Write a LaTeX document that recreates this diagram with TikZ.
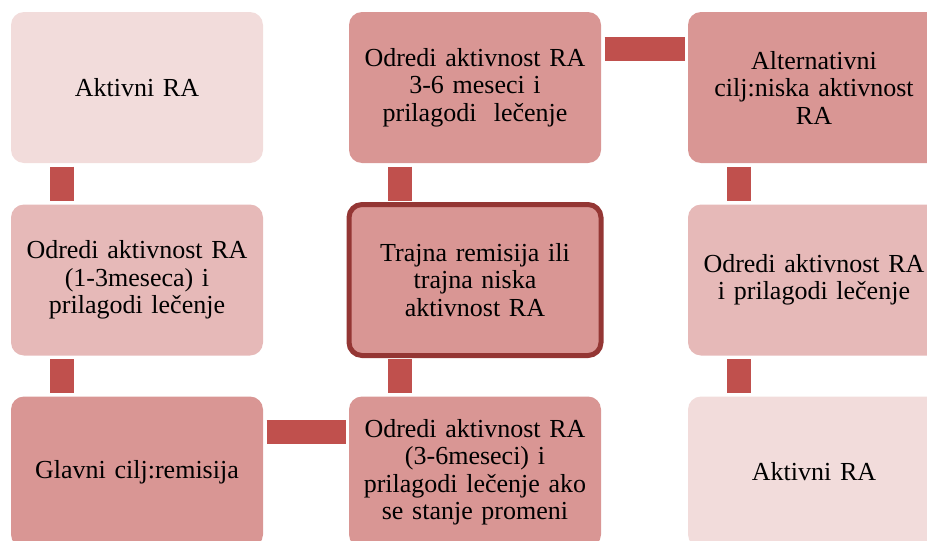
\documentclass[tikz,border=0pt]{standalone}
\usepackage{fontspec}
\setmainfont{Liberation Serif}
\definecolor{pale}{HTML}{F2DCDB}
\definecolor{soft}{HTML}{E6B9B8}
\definecolor{rose}{HTML}{D99694}
\definecolor{bar}{HTML}{C0504D}
\definecolor{frame}{HTML}{943634}
\tikzset{
  stage/.style={rounded corners=13pt, minimum width=252pt, minimum height=151pt,
    text width=246pt, align=center, inner sep=0pt, outer sep=0pt,
    font=\fontsize{26}{27.5}\selectfont},
  link/.style={draw=bar, line width=24pt, shorten <=3.5pt, shorten >=3.5pt}
}
\begin{document}
\begin{tikzpicture}[x=1pt,y=-1pt]
    \useasboundingbox (0,0) rectangle (927,541);
    % Treatment stages, three columns
    \node[stage, fill=pale] (a1) at (137,87.5) {Aktivni RA};
    \node[stage, fill=soft] (a2) at (137,280) {Odredi aktivnost RA\\(1-3meseca) i\\prilagodi lečenje};
    \node[stage, fill=rose] (a3) at (137,472) {Glavni cilj:remisija};
    \node[stage, fill=rose] (b1) at (475,87.5) {Odredi aktivnost RA\\3-6 meseci i\\prilagodi \ lečenje};
    \node[stage, fill=rose, draw=frame, line width=5pt] (b2) at (475,280) {Trajna remisija ili\\trajna niska\\aktivnost RA};
    \node[stage, fill=rose] (b3) at (475,472) {Odredi aktivnost RA\\(3-6meseci) i\\prilagodi lečenje ako\\se stanje promeni};
    \node[stage, fill=rose] (c1) at (814,87.5) {Alternativni\\cilj:niska aktivnost\\RA};
    \node[stage, fill=soft] (c2) at (814,280) {Odredi aktivnost RA\\i prilagodi lečenje};
    \node[stage, fill=pale] (c3) at (814,472) {Aktivni RA};
    % Bars between stages
    \foreach \u/\v in {a1/a2,a2/a3,b1/b2,b2/b3,c1/c2,c2/c3}
        \draw[link] ([xshift=51pt]\u.south west) -- ([xshift=51pt]\v.north west);
    \draw[link] ([yshift=-35pt]a3.north east) -- ([yshift=-35pt]b3.north west);
    \draw[link] ([yshift=-37pt]b1.north east) -- ([yshift=-37pt]c1.north west);
\end{tikzpicture}
\end{document}
